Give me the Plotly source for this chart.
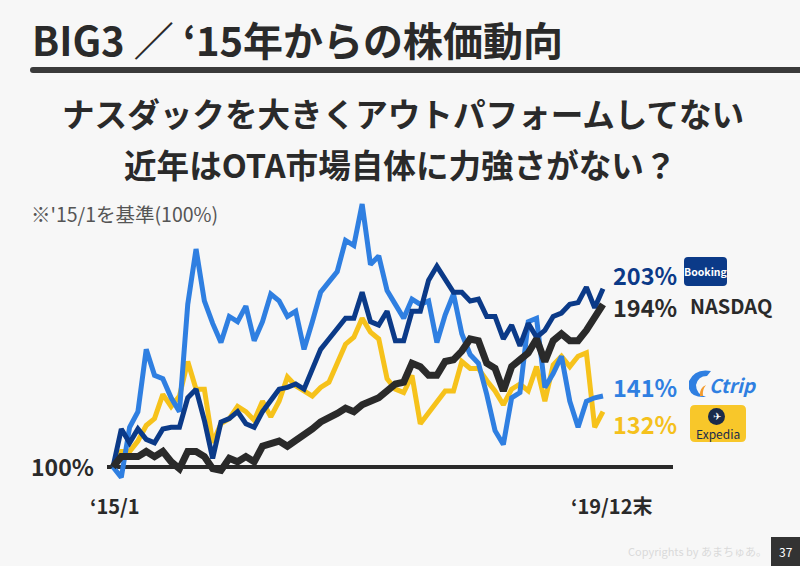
import plotly.graph_objects as go

W, H = 800, 566

# ---- data (index 100 = Jan 2015), monthly Jan 2015 .. Dec 2019 ----
months = list(range(60))
booking = [100, 122, 114, 122, 116, 114, 122, 123, 123, 140, 145, 127, 105, 126, 128, 132, 125, 123, 132, 139,
           145, 146, 148, 145, 157, 168, 174, 180, 186, 186, 201, 184, 182, 190, 173, 173, 190, 190, 208, 216,
           209, 201, 201, 196, 197, 187, 187, 174, 182, 170, 183, 175, 179, 187, 189, 194, 195, 204, 192, 203]
nasdaq = [100, 106, 106, 106, 109, 106, 109, 103, 99, 109, 109, 106, 99, 98, 105, 103, 106, 103, 112, 113,
          115, 112, 115, 118, 122, 126, 128, 131, 134, 132, 136, 138, 140, 144, 148, 149, 160, 158, 153, 153,
          161, 162, 167, 174, 173, 160, 157, 144, 158, 162, 166, 174, 161, 173, 177, 173, 173, 179, 187, 194]
ctrip = [100, 94, 123, 132, 168, 153, 151, 140, 132, 194, 226, 196, 183, 172, 187, 184, 193, 173, 184, 200,
         196, 187, 190, 168, 184, 201, 207, 213, 231, 228, 252, 217, 222, 202, 194, 186, 197, 194, 196, 172,
         188, 200, 177, 165, 160, 142, 121, 113, 140, 143, 184, 186, 146, 154, 164, 138, 123, 138, 140, 141]
expedia = [100, 109, 109, 115, 124, 128, 142, 135, 141, 161, 145, 145, 114, 125, 128, 135, 132, 127, 138, 129,
           138, 152, 147, 144, 141, 146, 149, 160, 171, 175, 186, 178, 174, 151, 145, 143, 153, 125, 131, 138,
           144, 144, 161, 157, 157, 150, 144, 136, 145, 148, 144, 158, 138, 159, 164, 158, 164, 166, 123, 132]

series_names = ["Expedia", "Ctrip", "Booking", "NASDAQ"]
end_labels = ["132%", "141%", "203%", "194%"]
x_labels = ["‘15/1", "‘19/12末"]

C_BOOK = "#0b3a88"
C_NAS = "#2a2a2a"
C_CTRIP = "#2f7fe1"
C_EXP = "#f6c21b"
BG = "#f7f7f7"
FONT = "Noto Sans CJK JP"

fig = go.Figure()
for name, vals, col, w in [("Expedia", expedia, C_EXP, 5), ("Ctrip", ctrip, C_CTRIP, 5),
                           ("Booking", booking, C_BOOK, 5), ("NASDAQ", nasdaq, C_NAS, 7)]:
    fig.add_trace(go.Scatter(x=months, y=vals, mode="lines", name=name,
                             line=dict(color=col, width=w), hoverinfo="skip"))

# axis ranges chosen so month 0 sits at x=113px, month 59 at x=603px, 100% at y=467px
px_per_m = (603 - 113) / 59
xmin = -113 / px_per_m
xmax = xmin + W / px_per_m
py_per_pct = 1.73
ymax = 100 + 467 / py_per_pct
ymin = ymax - H / py_per_pct


def X(x):
    return x / W


def Y(y):
    return 1 - y / H


def pathpx(cmds, close=True):
    s = ""
    for p in cmds:
        cmd = p[0]
        coords = p[1:]
        s += cmd + " " + " ".join(
            f"{X(coords[i]):.5f},{Y(coords[i + 1]):.5f}" for i in range(0, len(coords), 2)) + " "
    return s + ("Z" if close else "")


def rrect(x0, y0, x1, y1, r):
    return pathpx([("M", x0 + r, y0), ("L", x1 - r, y0), ("Q", x1, y0, x1, y0 + r), ("L", x1, y1 - r),
                   ("Q", x1, y1, x1 - r, y1), ("L", x0 + r, y1), ("Q", x0, y1, x0, y1 - r), ("L", x0, y0 + r),
                   ("Q", x0, y0, x0 + r, y0)])


shapes = []
# title underline
shapes.append(dict(type="path", xref="paper", yref="paper", path=rrect(30, 67, 803, 73, 3),
                   fillcolor="#3a3a3a", line=dict(width=0)))
# 100% baseline
shapes.append(dict(type="line", xref="paper", yref="y", x0=X(107), x1=X(673), y0=100, y1=100,
                   line=dict(color=C_NAS, width=4), layer="below"))
# Booking logo
shapes.append(dict(type="path", xref="paper", yref="paper", path=rrect(684, 257, 727, 286, 4),
                   fillcolor=C_BOOK, line=dict(width=0)))
# Expedia logo
shapes.append(dict(type="path", xref="paper", yref="paper", path=rrect(690, 405, 746, 442, 5),
                   fillcolor="#f8c72a", line=dict(width=0)))
shapes.append(dict(type="circle", xref="paper", yref="paper", x0=X(708), x1=X(725), y0=Y(425), y1=Y(408),
                   fillcolor="#1a2b4a", line=dict(width=0)))
# Ctrip dolphin (approximate)
shapes.append(dict(type="path", xref="paper", yref="paper",
                   path=pathpx([("M", 689, 381), ("Q", 695, 368, 711, 371), ("L", 707, 376),
                                ("Q", 698, 376, 696, 385), ("Q", 696, 394, 706, 397),
                                ("Q", 692, 398, 689, 389)]),
                   fillcolor=C_CTRIP, line=dict(width=0)))
shapes.append(dict(type="path", xref="paper", yref="paper",
                   path=pathpx([("M", 700, 396), ("Q", 699, 388, 706, 385), ("Q", 702, 390, 703, 396)]),
                   fillcolor="#f39a2b", line=dict(width=0)))
# page number box
shapes.append(dict(type="rect", xref="paper", yref="paper", x0=X(771), x1=X(800), y0=Y(566), y1=Y(537),
                   fillcolor="#333333", line=dict(width=0)))

ann = []


def text(x, y, t, size, color, anchor="left", bold=True, family=FONT):
    ann.append(dict(xref="paper", yref="paper", x=X(x), y=Y(y), text=(f"<b>{t}</b>" if bold else t),
                    showarrow=False, xanchor=anchor, yanchor="middle",
                    font=dict(family=family, size=size, color=color)))


text(30, 39, "BIG3 ／ ‘15年からの株価動向", 40, "#2a2a2a")
text(403, 113, "ナスダックを大きくアウトパフォームしてない", 32.6, "#2a2a2a", anchor="center")
text(400, 163, "近年はOTA市場自体に力強さがない？", 32.6, "#2a2a2a", anchor="center")
text(29, 213, "※'15/1を基準(100%)", 19.5, "#555555", bold=False)
text(96, 466, "100%", 23, "#2a2a2a", anchor="right")
text(115, 505, x_labels[0], 20, "#2a2a2a", anchor="center")
text(611, 505, x_labels[1], 20, "#2a2a2a", anchor="center")

end_y = {"Booking": 275, "NASDAQ": 307, "Ctrip": 387, "Expedia": 424}
end_col = {"Booking": C_BOOK, "NASDAQ": C_NAS, "Ctrip": C_CTRIP, "Expedia": "#f5c11c"}
for nm, lab in zip(series_names, end_labels):
    text(611, end_y[nm], lab, 23.5, end_col[nm])

text(688, 305, "NASDAQ", 20, "#2a2a2a")
text(705.5, 271.5, "Booking", 10.5, "white", anchor="center")
text(733, 385, "<i>Ctrip</i>", 19, C_CTRIP, anchor="center")
text(716.5, 416.5, "✈", 10, "white", anchor="center", bold=False, family="DejaVu Sans")
text(718, 433.5, "Expedia", 12, "#1a2b4a", anchor="center", bold=False)
text(697, 551, "Copyrights by あまちゅあ。", 11, "#dadada", anchor="center", bold=False)
text(785.5, 551.5, "37", 12, "white", anchor="center", bold=False)

fig.update_layout(
    width=W, height=H, autosize=False,
    margin=dict(l=0, r=0, t=0, b=0),
    paper_bgcolor=BG, plot_bgcolor=BG,
    showlegend=False,
    xaxis=dict(range=[xmin, xmax], visible=False, fixedrange=True),
    yaxis=dict(range=[ymin, ymax], visible=False, fixedrange=True),
    shapes=shapes, annotations=ann,
    font=dict(family=FONT),
)

fig.write_html("out.html", config={"displayModeBar": False},
               post_script="document.body.style.margin='0';document.body.style.overflow='hidden';")
